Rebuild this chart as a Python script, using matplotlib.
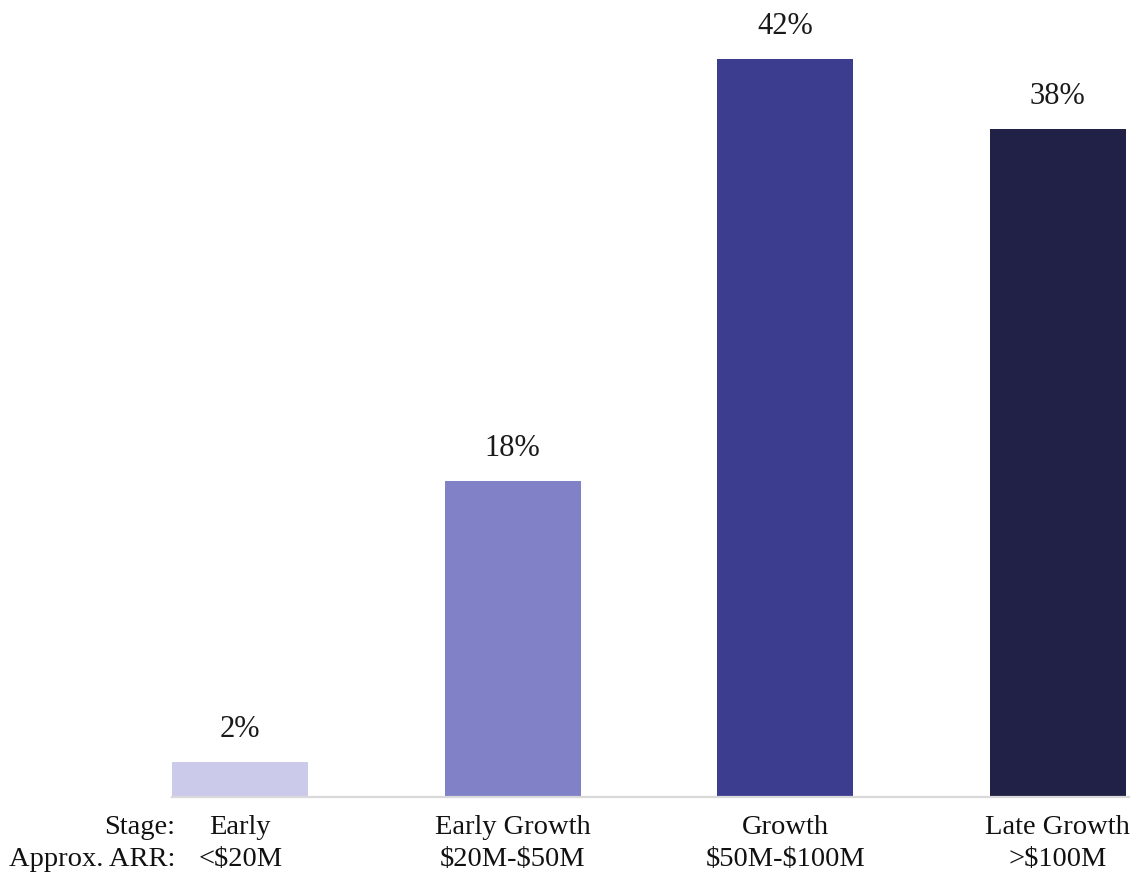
import numpy as np
import matplotlib.pyplot as plt
from matplotlib.transforms import blended_transform_factory

# share of companies by stage
stages = ["Early", "Early Growth", "Growth", "Late Growth"]
arr_ranges = ["<\\$20M", "\\$20M-\\$50M", "\\$50M-\\$100M", ">\\$100M"]
shares = [2, 18, 42, 38]
bar_colors = ["#CBCAEB", "#8181C8", "#3D3D8F", "#212046"]

fig = plt.figure(figsize=(11.32, 8.75), dpi=100)
ax = fig.add_axes([0.152, 0.0891, 0.845, 0.9109])

x = np.arange(len(stages))
bars = ax.bar(x, shares, width=0.5, color=bar_colors, zorder=2)

for rect, v in zip(bars, shares):
    ax.annotate(f"{v}%", (rect.get_x() + rect.get_width() / 2, rect.get_height()),
                xytext=(0, 13), textcoords="offset points", ha="center", va="bottom",
                fontsize=22, family="Liberation Serif", color="#1a1a1a")

ax.set_xlim(-0.25, 3.26)
ax.set_ylim(0, 45.36)
ax.set_xticks([])
ax.set_yticks([])
for side in ["top", "right", "left"]:
    ax.spines[side].set_visible(False)
ax.spines["bottom"].set_color("#D9D9D9")
ax.spines["bottom"].set_linewidth(1.6)

# two-row category labels under the axis
trans = blended_transform_factory(ax.transData, fig.transFigure)
serif = dict(family="Liberation Serif", fontsize=20.5, color="#111111")
row1_y, row2_y = 1 - 828 / 875, 1 - 859 / 875
for i in range(len(stages)):
    ax.text(x[i], row1_y, stages[i], transform=trans, ha="center", va="center", **serif)
    ax.text(x[i], row2_y, arr_ranges[i], transform=trans, ha="center", va="center", **serif)

fig.text(175 / 1132, row1_y, "Stage:", ha="right", va="center", **serif)
fig.text(175 / 1132, row2_y, "Approx. ARR:", ha="right", va="center", **serif)

fig.savefig("out.png", dpi=100)
